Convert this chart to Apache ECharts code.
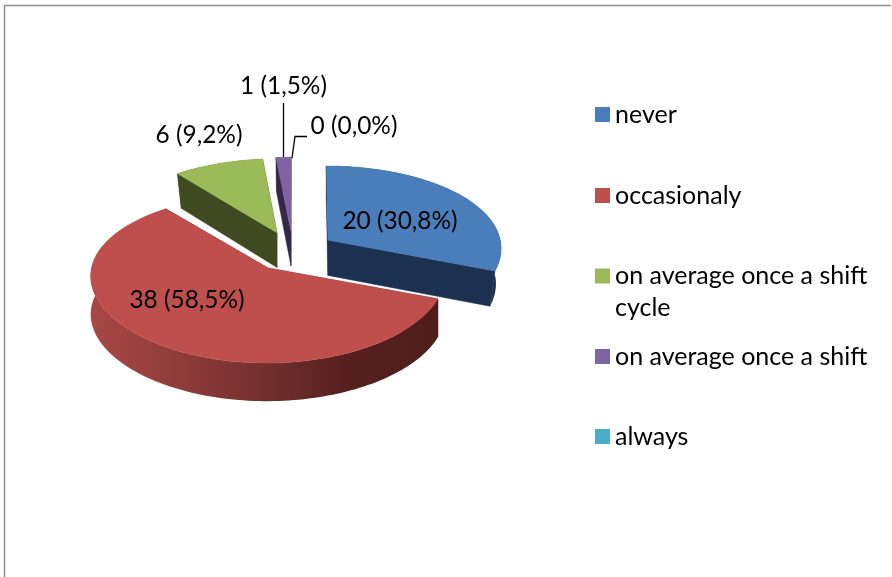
<!DOCTYPE html>
<html><head><meta charset="utf-8">
<style>html,body{margin:0;padding:0;background:#fff}#c{width:892px;height:577px}</style>
<script src="https://cdn.jsdelivr.net/npm/echarts@6/dist/echarts.min.js"></script>
</head><body><div id="c"></div>
<script>
// ---- data ----
const categories = ['never', 'occasionaly', 'on average once a shift cycle', 'on average once a shift', 'always'];
const legendLabels = ['never', 'occasionaly', '\non average once a shift\ncycle', 'on average once a shift', 'always'];
const values = [20, 38, 6, 1, 0];
// ---- styles ----
const topColors = ['#4A7EBB', '#BE4F4C', '#9BBB59', '#8064A2', '#4BACC6'];
const wallColors = ['#1C3150', '#5A2422', '#3F4A20', '#34284A', '#1F4A55'];
const FONT = 'Lato';
const FS = 24.4;
const LEGEND_FS = 25;
// label centres
const labelPos = [[400, 221], [187, 300], [199, 135], [283.5, 86], [354, 126]];
const leaders = [null, null, null, [[283.5, 103], [283.5, 157]], [[292, 158], [295, 136.5], [307, 136.5]]];
const legendCentre = [114.5, 195.5, 276, 356.5, 436.5];
// pie geometry
const CX = 293, CY = 251.6, EX = 42.5, EY = 20.3, RX = 174, RY = 83.2, PERSP = 0.124, PERSP_X = 0.09, SHEAR = 0.05, DEPTH = 36.5;

const total = values.reduce((a, b) => a + b, 0);
const starts = [];
values.reduce((acc, v, i) => { starts[i] = acc; return acc + v; }, 0);
const pctText = v => (v / total * 100).toFixed(1).replace('.', ',') + '%';

function sliceGeom(i) {
  const a0 = starts[i] / total * Math.PI * 2;
  const a1 = (starts[i] + values[i]) / total * Math.PI * 2;
  const mid = (a0 + a1) / 2;
  const ax = CX + EX * Math.sin(mid), ay = CY - EY * Math.cos(mid);
  const k = 0.97 + 0.03 * (ay - 240) / 28;
  const rx = RX + 0.15 * (ay - CY);
  const depth = DEPTH + 0.1 * (ay - CY);
  const rim = t => {
    const X = Math.sin(t), Y = -Math.cos(t);
    return [ax + rx * X / (1 - PERSP_X * Y) + SHEAR * (ax - CX) * Y, ay + RY * Y / (1 - PERSP * Y)];
  };
  const low = p => [ax + (p[0] - ax) * k, p[1] + depth];
  return { a0, a1, ax, ay, rim, low };
}

function renderSlice(i) {
  return function () {
    const children = [];
    const v = values[i];
    if (v > 0) {
      const g = sliceGeom(i);
      const n = Math.max(4, Math.ceil((g.a1 - g.a0) / (Math.PI / 120)));
      const arc = [];
      for (let j = 0; j <= n; j++) arc.push(g.rim(g.a0 + (g.a1 - g.a0) * j / n));
      const apex = [g.ax, g.ay], first = arc[0], last = arc[n];
      const wallStyle = { fill: wallColors[i], stroke: wallColors[i], lineWidth: 0.5 };
      children.push({ type: 'polygon', shape: { points: [apex, first, g.low(first), g.low(apex)] }, style: wallStyle });
      children.push({ type: 'polygon', shape: { points: [apex, last, g.low(last), g.low(apex)] }, style: wallStyle });
      const outerFill = i === 1
        ? new echarts.graphic.LinearGradient(0, 0, 1, 0, [
            { offset: 0, color: '#A84845' }, { offset: 0.3, color: '#8A3A38' },
            { offset: 0.55, color: '#6C2D2B' }, { offset: 0.75, color: '#551F1D' }, { offset: 1, color: '#4E1E1B' }])
        : wallColors[i];
      children.push({ type: 'polygon',
        shape: { points: arc.concat(arc.map(g.low).reverse()) },
        style: { fill: outerFill } });
      children.push({ type: 'polygon', shape: { points: [apex].concat(arc) },
        style: { fill: topColors[i], stroke: topColors[i], lineWidth: 0.5 } });
    }
    if (leaders[i]) {
      children.push({ type: 'polyline', shape: { points: leaders[i] },
        style: { stroke: '#000', lineWidth: 1.3, fill: null } });
    }
    children.push({ type: 'text', style: {
      text: v + ' (' + pctText(v) + ')', x: labelPos[i][0], y: labelPos[i][1],
      fill: '#000', fontFamily: FONT, fontSize: FS, align: 'center', verticalAlign: 'middle' }, z2: 100 });
    return { type: 'group', children };
  };
}

const drawOrder = [2, 3, 0, 1, 4];
const chart = echarts.init(document.getElementById('c'), null, { renderer: 'canvas' });
const LH = 32;
chart.setOption({
  animation: false,
  backgroundColor: '#fff',
  color: topColors,
  graphic: [
    { type: 'polyline', shape: { points: [[4.5, 577], [4.5, 5.5], [891, 5.5]] },
      style: { stroke: '#8c8c8c', lineWidth: 1.5, fill: null }, silent: true }
  ],
  legend: categories.map((c, i) => ({
    show: true, data: [c], left: 595,
    top: legendCentre[i] - (i === 2 ? 1.5 * LH : LH / 2),
    padding: 0, itemWidth: 15, itemHeight: 15, icon: 'rect', selectedMode: false,
    formatter: () => legendLabels[i],
    textStyle: { fontFamily: FONT, fontSize: LEGEND_FS, color: '#000', lineHeight: LH }
  })),
  series: drawOrder.map(i => ({
    type: 'custom', name: categories[i], coordinateSystem: 'none',
    itemStyle: { color: topColors[i] },
    silent: true, data: [[values[i]]], renderItem: renderSlice(i), z: 2
  }))
});
</script></body></html>
